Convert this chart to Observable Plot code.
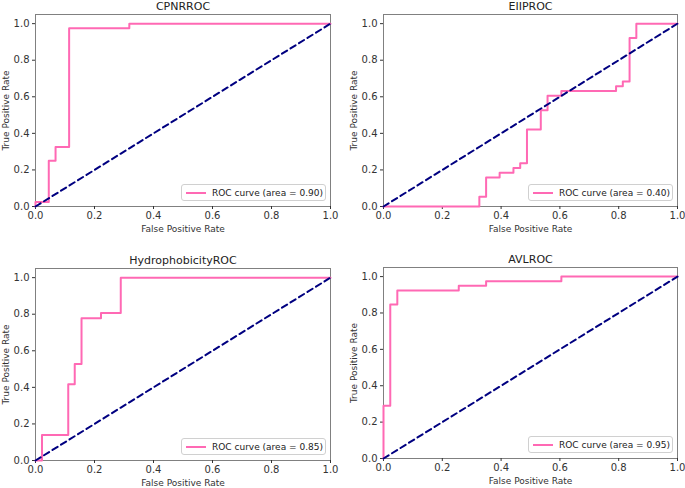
<!DOCTYPE html>
<html>
<head>
<meta charset="utf-8">
<script src="https://cdn.jsdelivr.net/npm/d3@7"></script>
<script src="https://cdn.jsdelivr.net/npm/@observablehq/plot@0.6"></script>
<style>
  html, body { margin: 0; padding: 0; background: #fff; }
  #root { position: relative; width: 685px; height: 488px; font-family: "DejaVu Sans", sans-serif; }
  .panel { position: absolute; }
  .legend { position: absolute; box-sizing: border-box; border: 1px solid #d0d0d0; border-radius: 3px;
            background: rgba(255,255,255,0.85); font: 9px "DejaVu Sans", sans-serif; color: #222;
            display: flex; align-items: center; white-space: nowrap; }
  .legend .swatch { display: inline-block; width: 20px; height: 0; border-top: 2px solid hotpink; margin: 0 6px 0 4px; }
</style>
</head>
<body>
<div id="root"></div>
<script>
// ---- data ----
const titles = ["CPNRROC", "EIIPROC", "HydrophobicityROC", "AVLROC"];
const areas = ["0.90", "0.40", "0.85", "0.95"];

const cpnrFpr = [0, 0, 0.045, 0.045, 0.068, 0.068, 0.114, 0.114, 0.318, 0.318, 1];
const cpnrTpr = [0, 0.025, 0.025, 0.25, 0.25, 0.325, 0.325, 0.975, 0.975, 1, 1];

const eiiFpr = [0, 0.326, 0.326, 0.349, 0.349, 0.395, 0.395, 0.442, 0.442, 0.465, 0.465, 0.488, 0.488, 0.535, 0.535, 0.558, 0.558, 0.605, 0.605, 0.791, 0.791, 0.814, 0.814, 0.837, 0.837, 0.860, 0.860, 1];
const eiiTpr = [0, 0, 0.053, 0.053, 0.158, 0.158, 0.184, 0.184, 0.211, 0.211, 0.237, 0.237, 0.421, 0.421, 0.526, 0.526, 0.605, 0.605, 0.632, 0.632, 0.658, 0.658, 0.684, 0.684, 0.921, 0.921, 1, 1];

const hydFpr = [0, 0.022, 0.022, 0.111, 0.111, 0.133, 0.133, 0.156, 0.156, 0.222, 0.222, 0.289, 0.289, 1];
const hydTpr = [0, 0, 0.139, 0.139, 0.417, 0.417, 0.528, 0.528, 0.778, 0.778, 0.806, 0.806, 1, 1];

const avlFpr = [0, 0, 0.023, 0.023, 0.047, 0.047, 0.256, 0.256, 0.349, 0.349, 0.605, 0.605, 1];
const avlTpr = [0, 0.29, 0.29, 0.846, 0.846, 0.923, 0.923, 0.949, 0.949, 0.974, 0.974, 1, 1];

const chanceLine = [0, 1];
const tickValues = [0, 0.2, 0.4, 0.6, 0.8, 1.0];

const curves = [[cpnrFpr, cpnrTpr], [eiiFpr, eiiTpr], [hydFpr, hydTpr], [avlFpr, avlTpr]];

// ---- layout ----
const layout = [
  {left: 0,   top: 0,   width: 340, height: 240, mL: 35, mR: 10, mT: 14, mB: 34},
  {left: 340, top: 0,   width: 345, height: 240, mL: 43, mR: 8,  mT: 14, mB: 34},
  {left: 0,   top: 245, width: 340, height: 243, mL: 35, mR: 10, mT: 23, mB: 28},
  {left: 340, top: 245, width: 345, height: 243, mL: 43, mR: 8,  mT: 22, mB: 30}
];

const root = document.getElementById("root");
const fmt = d3.format(".1f");

layout.forEach((L, i) => {
  const [fx, fy] = curves[i];
  const roc = fx.map((x, k) => ({fpr: x, tpr: fy[k]}));
  const diag = chanceLine.map(v => ({fpr: v, tpr: v}));
  const plot = Plot.plot({
    width: L.width, height: L.height,
    marginLeft: L.mL, marginRight: L.mR, marginTop: L.mT, marginBottom: L.mB,
    style: {fontFamily: "DejaVu Sans, sans-serif", fontSize: "10px", color: "#333", background: "white", overflow: "visible"},
    x: {domain: [0, 1]},
    y: {domain: [0, 1.05]},
    marks: [
      Plot.frame({stroke: "#808080", strokeWidth: 1}),
      Plot.axisX({ticks: tickValues, tickFormat: fmt, tickSize: 3, tickPadding: 2, label: null, stroke: "#333", fontSize: 10}),
      Plot.axisY({ticks: tickValues, tickFormat: fmt, tickSize: 3, tickPadding: 3, label: null, stroke: "#333", fontSize: 10}),
      Plot.line(roc, {x: "fpr", y: "tpr", stroke: "hotpink", strokeWidth: 2, curve: "linear"}),
      Plot.line(diag, {x: "fpr", y: "tpr", stroke: "navy", strokeWidth: 2, strokeDasharray: "6,4"}),
      Plot.text([titles[i]], {frameAnchor: "top", dy: -8, lineAnchor: "middle", fontSize: 11, fill: "#222"}),
      Plot.text(["False Positive Rate"], {frameAnchor: "bottom", dy: 23, lineAnchor: "middle", fontSize: 9, fill: "#333"}),
      Plot.text(["True Positive Rate"], {frameAnchor: "left", dx: -29, rotate: -90, textAnchor: "middle", lineAnchor: "middle", fontSize: 9, fill: "#333"})
    ]
  });
  const wrap = document.createElement("div");
  wrap.className = "panel";
  wrap.style.left = L.left + "px";
  wrap.style.top = L.top + "px";
  wrap.appendChild(plot);
  root.appendChild(wrap);

  // legend (lower right, inside frame)
  const lg = document.createElement("div");
  lg.className = "legend";
  const frameRight = L.left + L.width - L.mR;
  const frameBottom = L.top + L.height - L.mB;
  lg.style.width = "145px";
  lg.style.height = "17px";
  lg.style.left = (frameRight - 4 - 145) + "px";
  lg.style.top = (frameBottom - 5 - 17) + "px";
  const sw = document.createElement("span");
  sw.className = "swatch";
  const tx = document.createElement("span");
  tx.textContent = `ROC curve (area = ${areas[i]})`;
  lg.appendChild(sw);
  lg.appendChild(tx);
  root.appendChild(lg);
});
</script>
</body>
</html>
